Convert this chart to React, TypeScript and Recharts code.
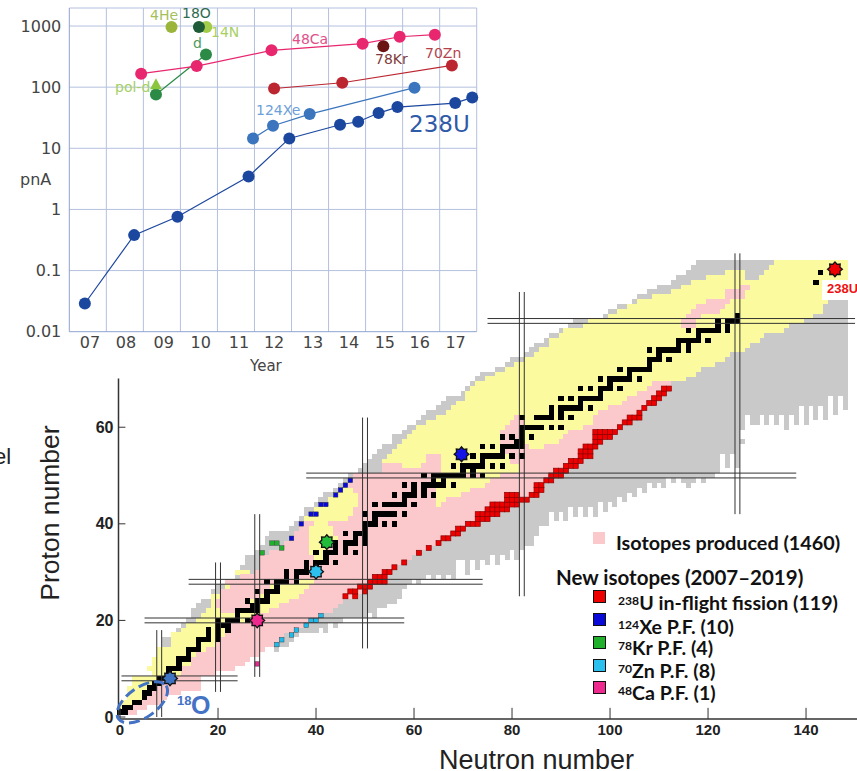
import React from "react";
import { LineChart, Line, ScatterChart, Scatter, XAxis, YAxis, ReferenceLine } from "recharts";

// ---------- beam intensity chart data ----------
const yearTicks = [0.56, 1.53, 2.55, 3.55, 4.58, 5.53, 6.58, 7.55, 8.52, 9.46, 10.43];
const yearLabels = ["07", "08", "09", "10", "11", "12", "13", "14", "15", "16", "17"];
const yearGrid = [1, 2, 3, 4, 5, 6, 7, 8, 9, 10, 11];
const pnaTicks = [0.01, 0.1, 1, 10, 100, 1000];
const u238 = [
  { x: 0.42, y: 0.0289 }, { x: 1.75, y: 0.38 }, { x: 2.92, y: 0.757 }, { x: 4.84, y: 3.46 }, { x: 5.94, y: 14.5 },
  { x: 7.31, y: 24.3 }, { x: 7.8, y: 27.2 }, { x: 8.35, y: 37.7 }, { x: 8.86, y: 47.2 }, { x: 10.42, y: 55 }, { x: 10.88, y: 68 },
];
const xe124 = [{ x: 4.96, y: 14.5 }, { x: 5.5, y: 23.4 }, { x: 6.49, y: 36.3 }, { x: 9.32, y: 98 }];
const ca48 = [{ x: 1.94, y: 166 }, { x: 3.44, y: 221 }, { x: 5.46, y: 400 }, { x: 7.92, y: 514 }, { x: 8.92, y: 668 }, { x: 9.87, y: 721 }];
const zn70 = [{ x: 5.53, y: 95 }, { x: 7.37, y: 118 }, { x: 10.33, y: 227 }];
const deut = [{ x: 2.34, y: 76 }, { x: 3.69, y: 343 }];
const polD = [{ x: 2.34, y: 112 }];
const he4 = [{ x: 2.76, y: 963 }];
const n14 = [{ x: 3.7, y: 963 }];
const o18 = [{ x: 3.5, y: 963 }];
const kr78 = [{ x: 8.48, y: 465 }];

// ---------- nuclear chart data: [Z, firstN, lastN] ----------
const yellowRows = [
  [1,0,3],[2,0,4],[3,1,6],[4,2,7],[5,2,8],[6,2,9],[7,3,10],[8,3,11],[9,7,13],[10,6,14],[11,7,15],[12,7,16],[13,8,17],[14,8,19],
  [15,11,22],[16,11,22],[17,11,23],[18,13,23],[19,14,24],[20,16,28],[21,17,30],[22,18,31],[23,19,33],[24,19,35],[25,19,36],[26,21,37],
  [27,22,39],[28,22,40],[29,34,38],[30,24,26],[33,39,42],[34,38,42],[35,38,43],[36,38,43],[37,38,45],[38,38,44],[39,38,44],[40,39,43],
  [41,38,47],[42,39,48],[43,40,48],[44,42,49],[44,64,66],[45,43,49],[45,64,67],[46,44,49],[46,64,70],[47,46,48],[47,64,72],[48,64,75],
  [49,64,76],[50,74,78],[51,65,81],[52,57,81],
  [53,54,94],[54,55,96],[55,56,96],[56,57,97],[57,58,98],[58,59,100],[59,60,101],[60,61,102],[61,63,104],[62,65,106],[63,67,106],
  [64,68,107],[65,69,109],[66,71,110],[67,71,111],[68,72,112],[69,73,112],[70,75,115],[71,77,117],[72,79,118],[73,81,121],[74,83,123],
  [75,85,124],[76,86,127],[77,88,128],[78,88,130],[79,90,131],[80,91,135],[81,95,136],[82,96,139],[83,100,141],[84,102,143],[85,104,143],
  [86,106,144],[87,109,148],[88,113,148],[89,115,148],[90,117,148],[91,120,127],[91,131,148],[92,124,127],[92,132,148],[93,133,148],[94,134,148],
];
const pinkRows = [
  [1,2,3],[2,3,5],[3,5,8],[4,5,9],[5,6,12],[6,7,16],[7,9,16],[8,10,16],[9,13,19],[10,13,23],[11,15,25],[12,15,26],[13,16,28],[14,18,29],
  [15,20,31],[16,21,32],[17,22,33],[18,23,35],[19,23,37],[20,26,38],[21,29,41],[22,21,25],[22,31,43],[23,20,26],[23,33,44],[24,20,26],
  [24,35,45],[25,21,28],[25,37,48],[26,21,29],[26,38,50],[27,23,30],[27,39,51],[28,22,35],[28,40,54],[29,25,54],[30,28,55],[31,29,56],
  [32,29,58],[33,29,39],[33,42,59],[34,31,38],[34,42,61],[35,34,38],[35,43,63],[36,34,38],[36,43,65],[37,36,38],[37,45,67],[38,36,38],
  [38,44,69],[39,37,38],[39,44,70],[40,38,39],[40,43,73],[41,47,75],[42,48,77],[43,48,79],[44,49,64],[44,66,81],[45,49,64],[45,67,83],
  [46,49,64],[46,70,85],[47,48,64],[47,72,86],[48,47,64],[48,75,86],[49,48,64],[49,76,88],[50,48,74],[50,78,90],[51,54,65],[51,82,91],
  [52,54,57],[52,62,65],[52,82,93],[53,63,65],[53,80,94],[54,63,65],[54,80,96],[55,78,96],[56,78,83],[56,87,97],[57,78,82],[57,90,98],
  [58,78,82],[58,91,100],[59,78,82],[59,92,101],[60,79,82],[60,95,102],[61,80,82],[61,97,104],[62,81,82],[62,97,106],[63,98,106],
  [64,100,107],[65,103,109],[66,104,110],[67,106,111],[68,108,112],[69,109,112],
  [81,115,117],[82,115,117],[83,116,118],[84,117,122],[85,118,123],[86,120,124],[87,124,127],[88,124,127],[89,127,128],
];
const redRows = [
  [25,46,46],[25,48,48],[26,47,48],[26,50,50],[27,49,51],[28,51,54],[29,52,54],[30,54,55],[31,56,56],[32,58,58],[34,61,61],[35,63,63],
  [36,65,65],[37,66,67],[38,68,69],[39,69,70],[40,71,73],[41,73,75],[42,73,77],[43,75,79],[44,76,81],[45,79,83],[46,79,81],[46,84,85],
  [47,85,86],[48,85,86],[49,87,88],[50,88,90],[51,89,91],[52,91,93],[53,92,94],[54,94,96],[55,94,96],[56,95,97],[57,97,98],[58,97,100],
  [59,97,101],[60,102,102],[61,103,104],[62,104,106],[63,106,106],[64,107,107],[65,108,109],[66,109,110],[67,110,111],[68,111,112],
];
// gray: [N, lowest Z, highest Z]
const grayCols = [
  [7,8,11],[8,8,14],[9,9,16],[10,10,16],[11,11,16],[12,12,18],[13,13,19],[14,14,20],[15,14,22],[16,15,23],[17,16,24],[18,17,24],[19,18,26],
  [20,19,27],[21,19,27],[22,20,27],[23,21,28],[24,22,29],[25,23,31],[26,24,33],[27,25,33],[28,25,34],[29,26,35],[30,27,37],[31,28,38],
  [32,14,38],[33,15,38],[34,15,38],[35,16,39],[36,17,40],[37,18,41],[38,18,43],[39,18,43],[40,18,44],[41,19,45],[42,18,46],[43,20,46],
  [44,19,47],[45,20,48],[46,21,49],[47,21,50],[48,21,50],[49,21,51],[50,21,52],[51,22,53],[52,21,54],[53,23,55],[54,23,56],[55,24,56],
  [56,24,58],[57,25,58],[58,27,59],[59,28,60],[60,29,60],[61,28,61],[62,29,62],[63,30,63],[64,29,63],[65,30,64],[66,29,65],[67,30,66],
  [68,29,66],[69,33,66],[70,33,67],[71,30,68],[72,33,69],[73,31,70],[74,33,71],[75,32,71],[76,34,71],[77,32,72],[78,34,72],[79,33,73],
  [80,35,74],[81,33,74],[82,35,74],[83,36,75],[84,36,76],[85,38,77],[86,40,77],[87,40,78],[88,43,79],[89,41,79],[90,43,80],[91,41,80],
  [92,44,81],[93,42,82],[94,44,82],[95,42,82],[96,44,82],[97,42,82],[98,45,82],[99,43,83],[100,45,84],[101,44,84],[102,46,85],[103,45,85],
  [104,47,85],[105,46,86],[106,48,87],[107,47,87],[108,49,88],[109,48,88],[110,49,89],[111,48,89],[112,50,89],[113,49,90],[114,50,91],
  [115,49,91],[116,48,92],[117,49,93],[118,50,94],[119,49,94],[120,50,94],[121,50,94],[122,51,94],[123,55,94],[124,52,94],[125,55,94],
  [126,52,94],[127,60,94],[128,63,94],[129,61,94],[130,61,94],[131,63,94],[132,61,94],[133,63,94],[134,61,94],[135,63,94],[136,60,94],
  [137,63,94],[138,61,94],[139,65,94],[140,61,94],[141,65,94],[142,62,94],[143,65,94],[144,62,94],[145,67,94],[146,63,94],[147,67,94],[148,64,94],
];
const grayIsolated = [{ n: 127, z: 57 }];
// stable nuclei: [Z, N values]
const stableRows: [number, number[]][] = [
  [1,[0,1]],[2,[1,2]],[3,[3,4]],[4,[5]],[5,[5,6]],[6,[6,7]],[7,[7,8]],[8,[8,9,10]],[9,[10]],[10,[10,11,12]],[11,[12]],[12,[12,13,14]],
  [13,[14]],[14,[14,15,16]],[15,[16]],[16,[16,17,18,20]],[17,[18,20]],[18,[18,20,22]],[19,[20,21,22]],[20,[20,22,23,24,26,28]],[21,[24]],
  [22,[24,25,26,27,28]],[23,[27,28]],[24,[26,28,29,30]],[25,[30]],[26,[28,30,31,32]],[27,[32]],[28,[30,32,33,34,36]],[29,[34,36]],
  [30,[34,36,37,38,40]],[31,[38,40]],[32,[38,40,41,42,44]],[33,[42]],[34,[40,42,43,44,46,48]],[35,[44,46]],[36,[42,44,46,47,48,50]],
  [37,[48,50]],[38,[46,48,49,50]],[39,[50]],[40,[50,51,52,54,56]],[41,[52]],[42,[50,52,53,54,55,56,58]],[44,[52,54,55,56,57,58,60]],
  [45,[58]],[46,[56,58,59,60,62,64]],[47,[60,62]],[48,[58,60,62,63,64,65,66,68]],[49,[64,66]],[50,[62,64,65,66,67,68,69,70,72,74]],
  [51,[70,72]],[52,[68,70,71,72,73,74,76,78]],[53,[74]],[54,[70,72,74,75,76,77,78,80,82]],[55,[78]],[56,[74,76,78,79,80,81,82]],[57,[81,82]],
  [58,[78,80,82,84]],[59,[82]],[60,[82,83,84,85,86,88,90]],[62,[82,85,86,87,88,90,92]],[63,[88,90]],[64,[88,90,91,92,93,94,96]],[65,[94]],
  [66,[90,92,94,95,96,97,98]],[67,[98]],[68,[94,96,98,99,100,102]],[69,[100]],[70,[98,100,101,102,103,104,106]],[71,[104]],
  [72,[102,104,105,106,107,108]],[73,[108]],[74,[108,109,110,112]],[75,[110]],[76,[108,110,111,112,113,114,116]],[77,[114,116]],
  [78,[114,115,116,117,118,120]],[79,[118]],[80,[116,118,119,120,121,122,124]],[81,[122,124]],[82,[122,124,125,126]],[83,[126]],
  [90,[142]],[92,[143]],
];
const blueCells = [{n:35,z:37},{n:37,z:40},{n:39,z:42},{n:40,z:42},{n:41,z:44},{n:42,z:44},{n:44,z:46},{n:45,z:47},{n:46,z:48},{n:47,z:49}];
const greenCells = [{n:29,z:34},{n:31,z:36},{n:32,z:36},{n:33,z:35}];
const cyanCells = [{n:32,z:15},{n:33,z:16},{n:35,z:17},{n:36,z:18},{n:38,z:19},{n:39,z:20},{n:40,z:20},{n:41,z:21}];
const magentaCells = [{n:28,z:11}];
const stars = [
  { n: 10.2, z: 8, fill: "#3f74c2" },
  { n: 28, z: 20, fill: "#ef2a8e" },
  { n: 40, z: 30.1, fill: "#2cc0ef" },
  { n: 42.2, z: 36.2, fill: "#21bd3a" },
  { n: 69.7, z: 54.4, fill: "#1414e6" },
  { n: 145.9, z: 92.7, fill: "#f00000" },
];
const ringCentre = [{ n: 4.55, z: 3.04 }];
// magic-number guide lines
const magicZ = [[8,0.3,24],[20,5,58],[28,14,74],[50,38,138],[82,75,150]];
const magicN = [[8,0,18],[20,5.2,32],[28,8.3,42],[50,14.2,62],[82,25,88],[126,42,96]];
const nTicks = [0, 20, 40, 60, 80, 100, 120, 140];
const zTicks = [0, 20, 40, 60];
const nMin = -0.31, nMax = 150.4, zMin = -0.41, zMax = 96.07, zAxisTop = 70.1;

const fromRows = (rows: number[][]) => {
  const out: { n: number; z: number }[] = [];
  rows.forEach(([z, a, b]) => { for (let n = a; n <= b; n++) out.push({ n, z }); });
  return out;
};
const fromCols = (cols: number[][]) => {
  const out: { n: number; z: number }[] = [];
  cols.forEach(([n, a, b]) => { for (let z = a; z <= b; z++) out.push({ n, z }); });
  return out;
};
const fromStable = (rows: [number, number[]][]) => {
  const out: { n: number; z: number }[] = [];
  rows.forEach(([z, ns]) => ns.forEach((n) => out.push({ n, z })));
  return out;
};

const cell = (fill: string, stroke?: string, s = 5) => (p: any) => (
  <rect x={p.cx - s / 2} y={p.cy - s / 2} width={s} height={s} fill={fill} stroke={stroke || "none"} strokeWidth={stroke ? 0.7 : 0} shapeRendering={stroke ? undefined : "crispEdges"} />
);
const smallCell = (fill: string) => (p: any) => (
  <rect x={p.cx - 2.3} y={p.cy - 2.3} width={4.6} height={4.6} fill={fill} stroke="#333" strokeWidth={0.4} />
);
const starShape = (p: any) => {
  const pts: string[] = [];
  for (let i = 0; i < 16; i++) {
    const r = i % 2 === 0 ? 7.4 : 5.4;
    const a = (Math.PI * i) / 8 - Math.PI / 2;
    pts.push(`${p.cx + r * Math.cos(a)},${p.cy + r * Math.sin(a)}`);
  }
  return <polygon points={pts.join(" ")} fill={p.payload.fill} stroke="#111" strokeWidth={1.3} />;
};
const ringShape = (p: any) => (
  <ellipse cx={p.cx} cy={p.cy} rx={29} ry={15} transform={`rotate(-35 ${p.cx} ${p.cy})`} fill="none" stroke="#4472c4" strokeWidth={3} strokeDasharray="11 5" />
);
const triangleDot = (p: any) => (
  <polygon key="tri" points={`${p.cx},${p.cy - 6} ${p.cx + 6},${p.cy + 5} ${p.cx - 6},${p.cy + 5}`} fill="#8cc63f" />
);
const noMark = () => <g />;
const seg = (key: string, a: { n: number; z: number }, b: { n: number; z: number }, width = 1) => (
  <Scatter key={key} data={[a, b]} shape={noMark} line={{ stroke: "#333", strokeWidth: width }} isAnimationActive={false} />
);

const T = ({ x, y, size, color = "#000", weight = 400, font = "DejaVu Sans", children, style }: any) => (
  <div style={{ position: "absolute", left: x, top: y, fontSize: size, color, fontWeight: weight, fontFamily: font, lineHeight: 1, whiteSpace: "nowrap", transform: "translateY(-50%)", ...style }}>
    {children}
  </div>
);
const Sup = ({ children }: any) => <span style={{ fontSize: "0.62em", position: "relative", top: "-0.42em" }}>{children}</span>;

const GRID = "#b4c0de";
const series = (data: any[], color: string, name: string) => (
  <Line data={data} dataKey="y" name={name} stroke={color} strokeWidth={1.2} dot={{ r: 6, fill: color, stroke: color, strokeWidth: 0 }} isAnimationActive={false} />
);
const LEG = "Lato, sans-serif";

export default function App() {
  return (
    <div style={{ position: "absolute", left: 0, top: 0, width: 857, height: 771, overflow: "hidden", background: "#fff" }}>
      <div style={{ position: "absolute", left: 0, top: 0 }}>
        <LineChart width={490} height={380} margin={{ top: 8, right: 13.3, bottom: 0, left: 0 }}>
          <XAxis type="number" dataKey="x" domain={[0, 11]} ticks={yearTicks} interval={0} height={48.3}
            tickLine={false} tickSize={0} tickMargin={5} tickFormatter={(_: any, i: number) => yearLabels[i]} stroke="#8fa2cf"
            tick={{ fontSize: 16, fill: "#444", fontFamily: "DejaVu Sans" }} />
          <YAxis type="number" scale="log" domain={[0.01, 1972]} ticks={pnaTicks} interval={0} width={69.3}
            tickLine={false} tickSize={0} tickMargin={8} stroke="#8fa2cf" tickFormatter={(v: number) => String(v)}
            tick={{ fontSize: 16, fill: "#444", fontFamily: "DejaVu Sans" }} />
          {yearGrid.map((v) => <ReferenceLine key={"v" + v} x={v} stroke={GRID} strokeWidth={1} />)}
          {pnaTicks.slice(1).map((v) => <ReferenceLine key={"h" + v} y={v} stroke={GRID} strokeWidth={1} />)}
          <ReferenceLine y={1972} stroke={GRID} strokeWidth={1} />
          {series(deut, "#2a8a46", "d")}
          {series(ca48, "#e8276f", "48Ca")}
          {series(zn70, "#bb2630", "70Zn")}
          {series(xe124, "#3a75bd", "124Xe")}
          {series(u238, "#1c479f", "238U")}
          {series(he4, "#9ab53a", "4He")}
          {series(n14, "#a3cc4a", "14N")}
          {series(o18, "#1d5c36", "18O")}
          {series(kr78, "#6b1414", "78Kr")}
          <Line data={polD} dataKey="y" name="pol-d" stroke="none" dot={triangleDot} isAnimationActive={false} />
        </LineChart>
      </div>

      <T x={150} y={15} size={14} color="#a5bf5a">4He</T>
      <T x={182} y={13} size={14} color="#2f6b50">18O</T>
      <T x={211} y={32} size={14} color="#a9cf63">14N</T>
      <T x={193} y={43} size={14} color="#4f9a5d">d</T>
      <T x={292} y={39} size={14} color="#e0518a">48Ca</T>
      <T x={375} y={59} size={14} color="#7f3b3b">78Kr</T>
      <T x={425} y={53} size={14} color="#b4434c">70Zn</T>
      <T x={256} y={110} size={14} color="#6da0d8">124Xe</T>
      <T x={115} y={87} size={14} color="#a3cf63">pol-d</T>
      <T x={409} y={124} size={23} color="#2f5aa8">238U</T>
      <T x={20} y={180} size={16} color="#444">pnA</T>
      <T x={250} y={366} size={15} color="#444">Year</T>

      <div style={{ position: "absolute", left: 0, top: 0 }}>
        <ScatterChart width={857} height={771} margin={{ top: 253, right: 0, bottom: 0, left: 0 }}>
          <XAxis type="number" dataKey="n" domain={[nMin, nMax]} ticks={nTicks} interval={0} height={52}
            axisLine={false} tickLine={false} tickSize={0} tickMargin={5}
            tick={{ fontSize: 15, fontWeight: 700, fill: "#222", fontFamily: "Liberation Sans" }} />
          <YAxis type="number" dataKey="z" domain={[zMin, zMax]} ticks={zTicks} interval={0} width={118.5}
            axisLine={false} tickLine={false} tickSize={0} tickMargin={5}
            tick={{ fontSize: 16, fontWeight: 700, fill: "#222", fontFamily: "Liberation Sans" }} />
          <Scatter data={fromCols(grayCols)} shape={cell("#c9c9c9")} isAnimationActive={false} />
          <Scatter data={grayIsolated} shape={cell("#c9c9c9")} isAnimationActive={false} />
          <Scatter data={fromRows(yellowRows)} shape={cell("#fbfa9e")} isAnimationActive={false} />
          <Scatter data={fromRows(pinkRows)} shape={cell("#fbc8cb")} isAnimationActive={false} />
          <Scatter data={fromRows(redRows)} shape={cell("#ee0000", "#8c0000")} isAnimationActive={false} />
          <Scatter data={blueCells} shape={smallCell("#0a0ad8")} isAnimationActive={false} />
          <Scatter data={greenCells} shape={smallCell("#21b02c")} isAnimationActive={false} />
          <Scatter data={cyanCells} shape={smallCell("#1fb9ea")} isAnimationActive={false} />
          <Scatter data={magentaCells} shape={smallCell("#dd2a8c")} isAnimationActive={false} />
          <Scatter data={fromStable(stableRows)} shape={cell("#000", undefined, 5.4)} isAnimationActive={false} />
          {magicZ.flatMap(([z, a, b]) => [-0.5, 0.5].map((d) =>
            seg(`z${z}${d}`, { n: a, z: z + d }, { n: b, z: z + d })
          ))}
          {magicN.flatMap(([n, a, b]) => [-0.5, 0.5].map((d) =>
            seg(`n${n}${d}`, { n: n + d, z: a }, { n: n + d, z: b })
          ))}
          {seg("axisN", { n: nMin, z: zMin }, { n: nMax, z: zMin }, 1.5)}
          {seg("axisZ", { n: nMin, z: zMin }, { n: nMin, z: zAxisTop }, 1.5)}
          {nTicks.map((v) => seg("tn" + v, { n: v, z: zMin }, { n: v, z: 1.9 }))}
          {zTicks.map((v) => seg("tz" + v, { n: nMin, z: v }, { n: 1.1, z: v }))}
          <Scatter data={ringCentre} shape={ringShape} isAnimationActive={false} />
          <Scatter data={stars} shape={starShape} isAnimationActive={false} />
        </ScatterChart>
      </div>

      <div style={{ position: "absolute", left: 822, top: 280, width: 35, height: 20, background: "#fff" }} />
      <T x={827} y={288} size={13} weight={700} color="#ee1111" font="Liberation Sans">238U</T>
      <T x={177} y={700} size={13} weight={700} color="#4472c4" font="Liberation Sans">18</T>
      <T x={191} y={705} size={25} weight={700} color="#4472c4" font="Liberation Sans">O</T>

      <T x={439} y={760} size={27} color="#222" font="Liberation Sans">Neutron number</T>
      <div style={{ position: "absolute", left: 50, top: 513, fontFamily: "Liberation Sans", fontSize: 26.5, color: "#222", lineHeight: 1, whiteSpace: "nowrap", transform: "translate(-50%,-50%) rotate(-90deg)" }}>Proton number</div>
      <T x={-6} y={457} size={22} color="#222" font="Liberation Sans">el</T>

      <div style={{ position: "absolute", left: 593, top: 532, width: 12, height: 12, background: "#fbc8cb" }} />
      <T x={616} y={543} size={19.8} weight={700} color="#111" font={LEG}>Isotopes produced (1460)</T>
      <T x={556} y={577} size={20.5} weight={700} color="#111" font={LEG}>New isotopes (2007–2019)</T>
      {[
        ["#ee0000", 590, 603, "238", "U in-flight fission (119)"],
        ["#0a0ad8", 613, 627, "124", "Xe P.F. (10)"],
        ["#21b02c", 636, 648, "78", "Kr P.F. (4)"],
        ["#2cc0ef", 659, 671, "70", "Zn P.F. (8)"],
        ["#ef2a8e", 681, 693, "48", "Ca P.F. (1)"],
      ].map(([c, top, y, mass, rest]: any) => (
        <React.Fragment key={mass}>
          <div style={{ position: "absolute", left: 593, top, width: 11, height: 11, background: c, border: "1px solid #111" }} />
          <T x={618} y={y} size={19.6} weight={700} color="#111" font={LEG}><Sup>{mass}</Sup>{rest}</T>
        </React.Fragment>
      ))}
    </div>
  );
}
